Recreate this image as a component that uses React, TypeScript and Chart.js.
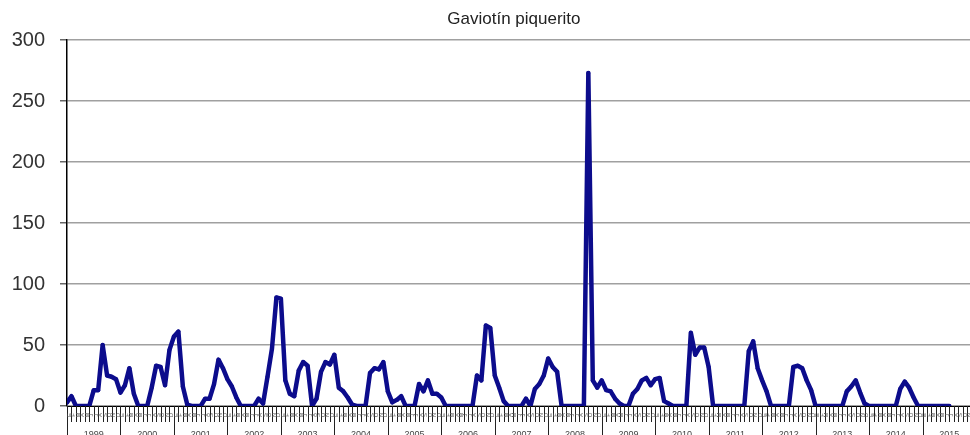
import React, { useEffect, useRef } from "react";
import { Chart, registerables } from "chart.js";

Chart.register(...registerables);

const chartTitle = "Gaviotín piquerito";

const monthLetters = ["E", "F", "M", "A", "M", "J", "J", "A", "S", "O", "N", "D"];

const years = [
  "1999", "2000", "2001", "2002", "2003", "2004", "2005", "2006", "2007",
  "2008", "2009", "2010", "2011", "2012", "2013", "2014", "2015",
];

// Monthly counts, January 1999 – July 2015
const counts1999 = [3, 8, 0, 0, 0, 0, 13, 13, 50, 25, 24, 22];
const counts2000 = [11, 17, 31, 10, 0, 0, 0, 15, 33, 32, 17, 46];
const counts2001 = [57, 61, 16, 1, 0, 0, 0, 6, 6, 18, 38, 31];
const counts2002 = [22, 16, 7, 0, 0, 0, 0, 6, 2, 24, 47, 89];
const counts2003 = [88, 21, 10, 8, 29, 36, 33, 0, 6, 28, 36, 34];
const counts2004 = [42, 15, 12, 7, 1, 0, 0, 0, 27, 31, 30, 36];
const counts2005 = [12, 3, 5, 8, 0, 0, 0, 18, 12, 21, 10, 10];
const counts2006 = [7, 0, 0, 0, 0, 0, 0, 0, 25, 21, 66, 64];
const counts2007 = [25, 15, 4, 0, 0, 0, 0, 6, 0, 14, 18, 25];
const counts2008 = [39, 32, 28, 0, 0, 0, 0, 0, 0, 273, 21, 15];
const counts2009 = [21, 13, 12, 6, 2, 0, 0, 10, 14, 21, 23, 17];
const counts2010 = [22, 23, 4, 2, 0, 0, 0, 0, 60, 42, 48, 48];
const counts2011 = [32, 0, 0, 0, 0, 0, 0, 0, 0, 45, 53, 31];
const counts2012 = [21, 12, 0, 0, 0, 0, 0, 32, 33, 31, 21, 13];
const counts2013 = [0, 0, 0, 0, 0, 0, 0, 12, 16, 21, 11, 2];
const counts2014 = [0, 0, 0, 0, 0, 0, 0, 14, 20, 15, 7, 0];
const counts2015 = [0, 0, 0, 0, 0, 0, 0];

const yearlyCounts = [
  counts1999, counts2000, counts2001, counts2002, counts2003, counts2004,
  counts2005, counts2006, counts2007, counts2008, counts2009, counts2010,
  counts2011, counts2012, counts2013, counts2014, counts2015,
];

const yTicks = [0, 50, 100, 150, 200, 250, 300];

const FONT = "'Liberation Sans', Arial, sans-serif";
const LINE = "#0c0c8c";

const axisDecor = {
  id: "axisDecor",
  afterDraw(chart: any) {
    const ctx = chart.ctx;
    const xs = chart.scales.x;
    const area = chart.chartArea;
    const base = area.bottom;
    const total = years.length * 12;
    ctx.save();
    // month ticks and year separators
    ctx.strokeStyle = "#222";
    ctx.lineWidth = 1;
    for (let k = 0; k <= total; k++) {
      const px = Math.round(xs.getPixelForValue(k)) + 0.5;
      ctx.beginPath();
      ctx.moveTo(px, base);
      ctx.lineTo(px, k % 12 === 0 ? chart.height : base + 16);
      ctx.stroke();
    }
    // month letters (rotated)
    ctx.fillStyle = "#555";
    ctx.font = `6px ${FONT}`;
    ctx.textAlign = "center";
    ctx.textBaseline = "middle";
    for (let k = 0; k < total; k++) {
      const px = xs.getPixelForValue(k + 0.5);
      ctx.save();
      ctx.translate(px, base + 9);
      ctx.rotate(-Math.PI / 2);
      ctx.fillText(monthLetters[k % 12], 0, 0);
      ctx.restore();
    }
    // year labels
    ctx.fillStyle = "#444";
    ctx.font = `9px ${FONT}`;
    ctx.textBaseline = "top";
    years.forEach((y, j) => {
      const px = xs.getPixelForValue(j * 12 + 6);
      ctx.fillText(y, px, base + 24);
    });
    // title
    ctx.fillStyle = "#222";
    ctx.font = `17px ${FONT}`;
    ctx.textBaseline = "middle";
    ctx.fillText(chartTitle, xs.getPixelForValue(100.3), 19);
    ctx.restore();
  },
};

export default function App() {
  const ref = useRef<HTMLCanvasElement | null>(null);

  useEffect(() => {
    if (!ref.current) return;
    const values = yearlyCounts.flat();
    const chart = new Chart(ref.current, {
      type: "line",
      data: {
        datasets: [
          {
            label: chartTitle,
            data: values.map((v, i) => ({ x: i, y: v })),
            borderColor: LINE,
            backgroundColor: LINE,
            borderWidth: 4.5,
            borderJoinStyle: "round",
            borderCapStyle: "round",
            pointRadius: 2,
            pointBackgroundColor: LINE,
            pointBorderWidth: 0,
            tension: 0,
          },
        ],
      },
      options: {
        animation: false,
        responsive: false,
        maintainAspectRatio: false,
        layout: { padding: { top: 40, left: 0, right: 0, bottom: 0 } },
        plugins: {
          legend: { display: false },
          title: { display: false },
          tooltip: { enabled: false },
        },
        scales: {
          x: {
            type: "linear",
            min: 0,
            max: years.length * 12,
            ticks: { display: false },
            grid: { display: false },
            border: { display: true, color: "#000", width: 1 },
            afterFit: (s: any) => {
              s.height = 29;
            },
          },
          y: {
            min: yTicks[0],
            max: yTicks[yTicks.length - 1],
            afterBuildTicks: (s: any) => {
              s.ticks = yTicks.map((v) => ({ value: v }));
            },
            ticks: {
              font: { family: FONT, size: 20 },
              color: "#333",
              padding: 15,
            },
            grid: {
              color: "#a0a0a0",
              lineWidth: 1.5,
              tickLength: 7,
              tickColor: "#666",
            },
            border: { display: true, color: "#000", width: 1.5 },
            afterFit: (s: any) => {
              s.width = 67;
            },
          },
        },
      },
      plugins: [axisDecor],
    });
    return () => chart.destroy();
  }, []);

  return (
    <div
      style={{
        position: "absolute",
        left: 0,
        top: 0,
        width: 970,
        height: 435,
        overflow: "hidden",
        background: "#fff",
      }}
    >
      <canvas ref={ref} width={980} height={435} style={{ width: 980, height: 435 }} />
    </div>
  );
}
